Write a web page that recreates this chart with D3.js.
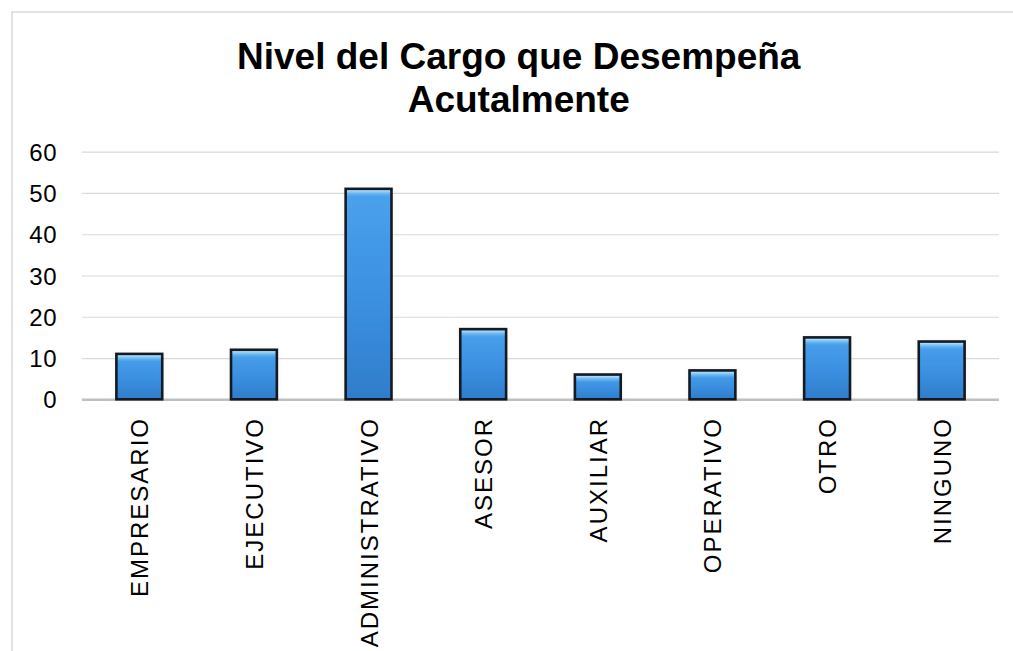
<!DOCTYPE html>
<html>
<head>
<meta charset="utf-8">
<script src="https://cdn.jsdelivr.net/npm/d3@7"></script>
<style>
    body { margin: 0; background: #fff; }
    text { font-family: "Liberation Sans", Arial, sans-serif; fill: #000; }
</style>
</head>
<body>
<div id="chart"></div>
<script>
// Data
var categories = ["EMPRESARIO", "EJECUTIVO", "ADMINISTRATIVO", "ASESOR", "AUXILIAR", "OPERATIVO", "OTRO", "NINGUNO"];
var values = [11, 12, 51, 17, 6, 7, 15, 14];
var yTicks = [0, 10, 20, 30, 40, 50, 60];
var titleLines = ["Nivel del Cargo que Desempeña", "Acutalmente"];

function init() {
    var w = 1013;
    var h = 651;
    var left = 82, right = 999, top = 151.7, bottom = 399.3;

    var data = categories.map((c, i) => ({ name: c, value: values[i] }));

    var svg = d3.select("#chart")
        .append("svg")
        .attr("width", w)
        .attr("height", h);

    var defs = svg.append("defs");

    var grad = defs.append("linearGradient")
        .attr("id", "barFill")
        .attr("x1", 0).attr("y1", 0).attr("x2", 0).attr("y2", 1);
    grad.append("stop").attr("offset", "0%").attr("stop-color", "#4aa2ec");
    grad.append("stop").attr("offset", "55%").attr("stop-color", "#3b8fe0");
    grad.append("stop").attr("offset", "100%").attr("stop-color", "#2f7dca");

    var shine = defs.append("linearGradient")
        .attr("id", "barShine")
        .attr("x1", 0).attr("y1", 0).attr("x2", 0).attr("y2", 1);
    shine.append("stop").attr("offset", "0%").attr("stop-color", "#c8ecff").attr("stop-opacity", 0.95);
    shine.append("stop").attr("offset", "100%").attr("stop-color", "#6fbaf2").attr("stop-opacity", 0);

    var glow = defs.append("filter").attr("id", "glow")
        .attr("x", "-20%").attr("y", "-10%").attr("width", "140%").attr("height", "120%");
    glow.append("feDropShadow")
        .attr("dx", 0).attr("dy", 0).attr("stdDeviation", 2.5)
        .attr("flood-color", "#f3c9a0").attr("flood-opacity", 0.5);

    // outer frame
    svg.append("rect")
        .attr("x", 12)
        .attr("y", 12)
        .attr("width", w)
        .attr("height", h)
        .attr("fill", "none")
        .attr("stroke", "#d9d9d9")
        .attr("stroke-width", 1.5);

    // title
    svg.append("g")
        .selectAll("text")
        .data(titleLines)
        .enter()
        .append("text")
        .attr("x", 518.7)
        .attr("y", (d, i) => 69 + i * 43)
        .attr("text-anchor", "middle")
        .style("font-size", "37px")
        .style("font-weight", "bold")
        .text(d => d);

    var xScale = d3.scaleBand()
        .domain(categories)
        .range([left, right])
        .paddingInner(0.6)
        .paddingOuter(0.3);

    var yScale = d3.scaleLinear()
        .domain([0, 60])
        .range([bottom, top]);

    // gridlines
    var yAxis = d3.axisLeft(yScale)
        .tickValues(yTicks)
        .tickSize(-(right - left))
        .tickFormat(d => d);

    var gy = svg.append("g")
        .attr("class", "y-axis")
        .attr("transform", `translate(${left}, 0)`)
        .call(yAxis);

    gy.select(".domain").remove();
    gy.selectAll(".tick line")
        .attr("stroke", d => d === 0 ? "#c0c0c0" : "#d9d9d9")
        .attr("stroke-width", d => d === 0 ? 2.5 : 1.2);
    gy.selectAll(".tick text")
        .attr("x", -25)
        .attr("dy", "0.36em")
        .attr("text-anchor", "end")
        .style("font-size", "24px")
        .style("letter-spacing", "0.5px")
        .style("font-family", "'Liberation Sans', Arial, sans-serif")
        .attr("fill", "#000");

    // bars
    var bars = svg.append("g")
        .selectAll("g")
        .data(data)
        .enter()
        .append("g");

    bars.append("rect")
        .attr("x", d => xScale(d.name))
        .attr("y", d => yScale(d.value))
        .attr("width", xScale.bandwidth())
        .attr("height", d => bottom - yScale(d.value))
        .attr("fill", "url(#barFill)")
        .attr("filter", "url(#glow)");

    bars.append("rect")
        .attr("x", d => xScale(d.name) + 1)
        .attr("y", d => yScale(d.value) + 1)
        .attr("width", xScale.bandwidth() - 2)
        .attr("height", 7)
        .attr("fill", "url(#barShine)");

    bars.append("rect")
        .attr("x", d => xScale(d.name))
        .attr("y", d => yScale(d.value))
        .attr("width", xScale.bandwidth())
        .attr("height", d => bottom - yScale(d.value))
        .attr("fill", "none")
        .attr("stroke", "#121a26")
        .attr("stroke-width", 2.6);

    // category labels
    svg.append("g")
        .selectAll("text")
        .data(categories)
        .enter()
        .append("text")
        .attr("transform", d => `translate(${xScale(d) + xScale.bandwidth() / 2 + 9}, 417) rotate(-90)`)
        .attr("text-anchor", "end")
        .style("font-size", "24px")
        .style("letter-spacing", "2px")
        .text(d => d);
}

window.onload = init;
</script>
</body>
</html>
